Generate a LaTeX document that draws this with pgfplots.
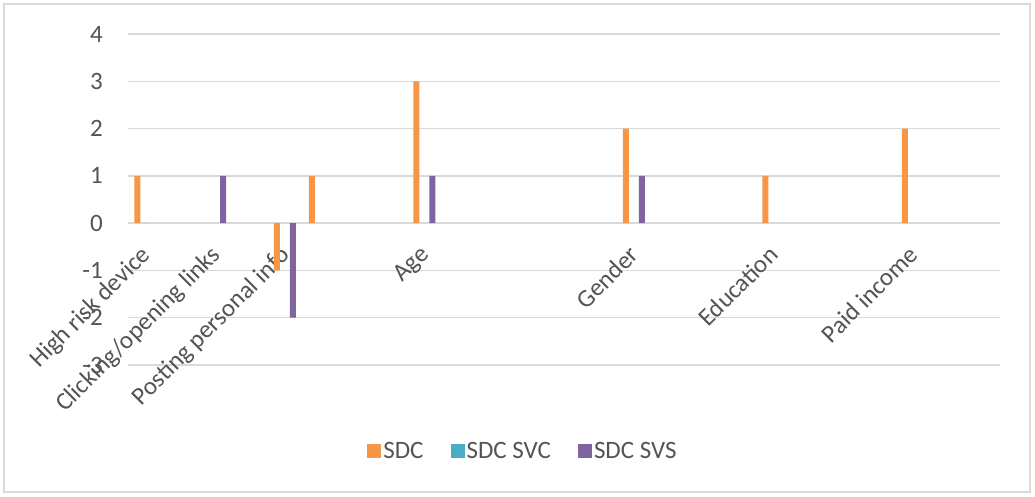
\documentclass[border=0pt]{standalone}
\usepackage{fontspec}
\setmainfont{Carlito}
\usepackage{pgfplots}
\pgfplotsset{compat=1.18}
\definecolor{sdc}{HTML}{F79646}
\definecolor{svc}{HTML}{4BACC6}
\definecolor{svs}{HTML}{8064A2}
\definecolor{gridc}{HTML}{D9D9D9}
\definecolor{txt}{HTML}{545454}
\pgfplotsset{sq legend/.style={legend image code/.code={\fill[##1] (0pt,-7pt) rectangle (14pt,7pt);}}}
\newcommand{\lbl}{\fontsize{25}{30}\selectfont}
\begin{document}
\begin{tikzpicture}[x=1pt,y=1pt]
\useasboundingbox (0,0) rectangle (1035,496);
\fill[white] (0,0) rectangle (1035,496);
\draw[gridc, line width=1.3pt] (4,4) rectangle (1030,492);
\begin{axis}[
  at={(128pt,131pt)}, anchor=south west,
  scale only axis, width=872pt, height=331pt,
  xmin=-0.5, xmax=24.5, ymin=-3, ymax=4,
  axis line style={draw=none},
  major tick length=0pt,
  ytick={-3,-2,-1,0,1,2,3,4},
  yticklabels={-3,-2,-1,0,1,2,3,4},
  ymajorgrids, grid style={gridc, line width=1.3pt},
  xtick={0,2,4,8,14,18,22},
  xticklabels={High risk device, Clicking/opening links, Posting personal info, Age, Gender, Education, Paid income},
  xticklabel style={font=\lbl, text=txt, inner sep=0pt, xshift=-6pt, yshift=121pt, rotate=45, anchor=north east},
  yticklabel style={font=\lbl, text=txt, inner sep=0pt, anchor=east, xshift=-25pt},
  ybar, bar width=6pt,
  legend columns=3,
  legend style={at={(rel axis cs:0.453,-0.26)}, anchor=center, draw=none, fill=none, font=\lbl, text=txt,
    /tikz/every even column/.append style={column sep=25pt}},
]
\addplot[fill=sdc, draw=none, bar shift=-8pt, sq legend] coordinates {(0,1) (4,-1) (5,1) (8,3) (14,2) (18,1) (22,2)};
\addlegendentry{SDC}
\addplot[fill=svc, draw=none, bar shift=0pt, sq legend] coordinates {(0,0)};
\addlegendentry{SDC SVC}
\addplot[fill=svs, draw=none, bar shift=8pt, sq legend] coordinates {(2,1) (4,-2) (8,1) (14,1)};
\addlegendentry{SDC SVS}
\end{axis}
\end{tikzpicture}
\end{document}
